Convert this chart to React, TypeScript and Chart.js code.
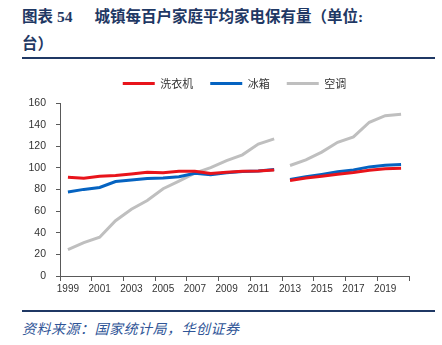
import React, { useEffect, useRef } from "react";
import { Chart, registerables } from "chart.js";

Chart.register(...registerables);

const years = [
  "1999", "2000", "2001", "2002", "2003", "2004", "2005", "2006", "2007", "2008", "2009",
  "2010", "2011", "2012", "2013", "2014", "2015", "2016", "2017", "2018", "2019", "2020",
];
const washer = [91.4, 90.5, 92.2, 92.9, 94.4, 95.9, 95.5, 96.8, 96.8, 94.7, 96.0, 96.9, 97.1, 98.0, 88.4, 90.7, 92.3, 94.2, 95.7, 97.7, 99.2, 99.7];
const fridge = [77.7, 80.1, 81.9, 87.4, 88.7, 90.2, 90.7, 91.8, 95.0, 93.6, 95.4, 96.6, 97.2, 98.5, 89.2, 91.7, 94.0, 96.4, 98.0, 100.9, 102.5, 103.1];
const aircon = [24.5, 30.8, 35.8, 51.1, 61.8, 69.8, 80.7, 87.8, 95.1, 100.3, 106.8, 112.1, 122.0, 126.8, 102.2, 107.4, 114.6, 123.7, 128.6, 142.2, 148.3, 149.6];
const seriesNames = ["洗衣机", "冰箱", "空调"];
const seriesColors = ["#E8141B", "#0563C1", "#BFBFBF"];
const breakAfterIndex = 13; // no line between 2012 and 2013

const TITLE_COLOR = "#1F3864";

export default function App() {
  const ref = useRef<HTMLCanvasElement | null>(null);

  useEffect(() => {
    if (!ref.current) return;
    const values = [washer, fridge, aircon];
    const chart = new Chart(ref.current, {
      type: "line",
      data: {
        labels: years,
        datasets: values.map((v, i) => ({
          label: seriesNames[i],
          data: v,
          borderColor: seriesColors[i],
          backgroundColor: seriesColors[i],
          borderWidth: 3,
          pointRadius: 0,
          tension: 0,
          segment: {
            borderColor: (ctx: any) =>
              ctx.p0DataIndex === breakAfterIndex ? "rgba(0,0,0,0)" : seriesColors[i],
          },
        })),
      },
      options: {
        animation: false,
        responsive: false,
        devicePixelRatio: 1,
        layout: { padding: { left: 0, right: 33, top: 0, bottom: 0 } },
        plugins: {
          tooltip: { enabled: false },
          subtitle: {
            display: true,
            text: "",
            position: "top",
            weight: 500,
            padding: { top: 3, bottom: 0 },
            font: { size: 1, lineHeight: 1 },
          },
          legend: {
            display: true,
            position: "top",
            fullSize: false,
            labels: {
              boxWidth: 32,
              boxHeight: 3,
              padding: 17,
              color: "#333",
              font: { family: "'Noto Sans CJK SC', sans-serif", size: 11 },
              generateLabels: (c: any) =>
                c.data.datasets.map((d: any, i: number) => ({
                  text: d.label,
                  fillStyle: seriesColors[i],
                  strokeStyle: seriesColors[i],
                  lineWidth: 0,
                  fontColor: "#333",
                  hidden: false,
                  datasetIndex: i,
                })),
            },
          },
        },
        scales: {
          x: {
            type: "category",
            offset: true,
            afterFit: (s: any) => {
              s.height = 30;
            },
            grid: {
              offset: true,
              drawOnChartArea: false,
              drawTicks: true,
              tickLength: 5,
              color: (ctx: any) =>
                ctx.type !== "tick" || ctx.index % 2 === 0 ? "#595959" : "rgba(0,0,0,0)",
            },
            border: { display: true, color: "#595959", width: 1 },
            ticks: {
              autoSkip: false,
              maxRotation: 0,
              padding: 2,
              color: "#333",
              font: { family: "'Liberation Sans', Arial, sans-serif", size: 10 },
              callback: (_v: any, i: number) => (i % 2 === 0 ? years[i] : ""),
            },
          },
          y: {
            min: 0,
            max: 160,
            afterFit: (s: any) => {
              s.width = 60;
            },
            grid: { drawOnChartArea: false, tickLength: 4, color: "#595959" },
            border: { display: true, color: "#595959", width: 1 },
            ticks: {
              stepSize: 20,
              padding: 10,
              color: "#333",
              font: { family: "'Liberation Sans', Arial, sans-serif", size: 10.5 },
            },
          },
        },
      },
    } as any);
    return () => chart.destroy();
  }, []);

  return (
    <div
      style={{
        position: "absolute",
        left: 0,
        top: 0,
        width: 442,
        height: 345,
        background: "#fff",
        overflow: "hidden",
      }}
    >
      <div
        style={{
          position: "absolute",
          left: 22,
          top: 3,
          fontFamily: "'Liberation Serif', 'Noto Sans CJK SC', serif",
          fontWeight: "bold",
          fontSize: 15.5,
          lineHeight: "27px",
          color: TITLE_COLOR,
          whiteSpace: "nowrap",
        }}
      >
        <span>图表 54</span>
        <span style={{ marginLeft: 22 }}>城镇每百户家庭平均家电保有量（单位:</span>
        <br />
        <span>台）</span>
      </div>
      <div
        style={{ position: "absolute", left: 22, top: 57, width: 413, height: 2, background: TITLE_COLOR }}
      />
      <div style={{ position: "absolute", left: 0, top: 61, width: 442, height: 245 }}>
        <canvas ref={ref} width={442} height={245} style={{ width: 442, height: 245, display: "block" }} />
      </div>
      <div
        style={{ position: "absolute", left: 22, top: 310, width: 413, height: 2, background: TITLE_COLOR }}
      />
      <div
        style={{
          position: "absolute",
          left: 22,
          top: 319,
          fontFamily: "'Noto Sans CJK SC', sans-serif",
          fontStyle: "italic",
          fontSize: 14,
          letterSpacing: 0.5,
          lineHeight: "18px",
          color: "#2F5597",
          whiteSpace: "nowrap",
        }}
      >
        资料来源：国家统计局，华创证券
      </div>
    </div>
  );
}
